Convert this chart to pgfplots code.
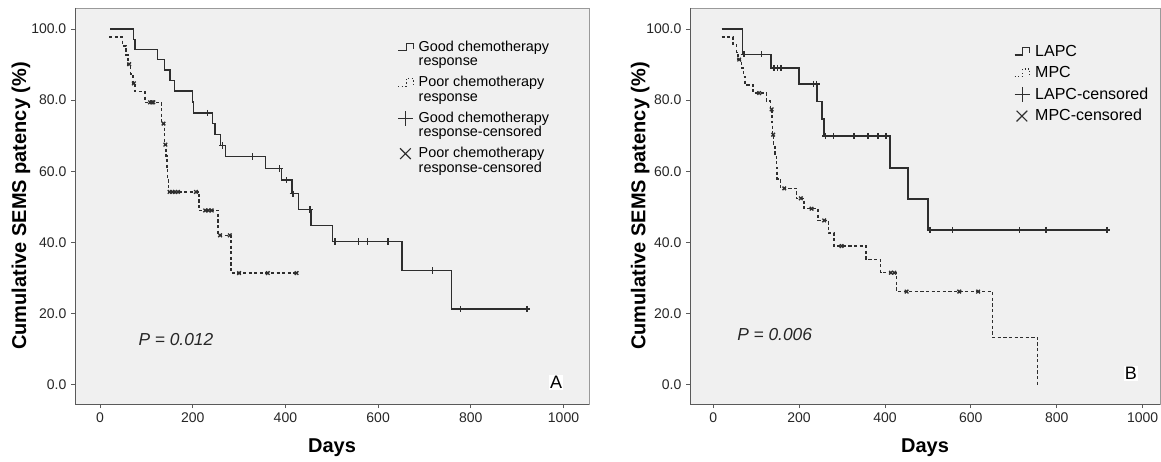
\documentclass[border=0pt]{standalone}
\usepackage{pgfplots}
\pgfplotsset{compat=1.18}
\usepackage{fontspec}
\setmainfont{Liberation Sans}
\definecolor{ink}{HTML}{2E2E2E}
\definecolor{panel}{HTML}{F0F0F0}
\definecolor{frame}{HTML}{9A9A9A}
\definecolor{frame2}{HTML}{5A5A5A}
\def\legshift{0pt}
\pgfplotsset{
  km/.style={
    scale only axis, height=297pt,
    xmin=-54, ymin=-5.4, ymax=105.9,
    clip mode=individual,
    axis background/.style={fill=panel},
    axis line style={draw=frame, line width=0.6pt},
    xtick={0,200,400,600,800,1000}, xticklabels={0,200,400,600,800,1000},
    ytick={0,20,40,60,80,100}, yticklabels={0.0,20.0,40.0,60.0,80.0,100.0},
    tick align=outside, xtick pos=left, ytick pos=left,
    major tick length=3pt, tick style={frame2, line width=0.6pt},
    tick label style={font=\fontsize{10.5}{10.5}\selectfont, text=black!85},
    xlabel={Days}, ylabel={Cumulative SEMS patency (\%)},
    label style={font=\bfseries\fontsize{15}{15}\selectfont},
    xlabel style={at={(axis description cs:0.5,-0.111)}, anchor=center},
    legend cell align=left,
    legend style={draw=none, fill=none, inner sep=0pt, row sep=5.5pt,
      /tikz/every odd column/.append style={column sep=3.5pt},
      font=\fontsize{10.8}{10.8}\selectfont, nodes={align=left, inner sep=0.5pt}},
  },
  stepline/.style={const plot, ink, line width=1.1pt,
    legend image code/.code={\path[draw=none, fill=none] (0pt,-5.5pt) rectangle (11.5pt,5.5pt);
      \draw[overlay, ink, line width=0.8pt, yshift=\legshift] (0pt,-2.5pt) -- (6pt,-2.5pt) -- (6pt,3pt) -- (11.5pt,3pt) -- (11.5pt,-1pt);}},
  stepdash/.style={const plot, ink, line width=1.1pt, dash pattern=on 2.4pt off 1.8pt,
    legend image code/.code={\path[draw=none, fill=none] (0pt,-5.5pt) rectangle (11.5pt,5.5pt);
      \draw[overlay, ink, line width=0.8pt, yshift=\legshift, dash pattern=on 1pt off 1.6pt] (0pt,-2.5pt) -- (6pt,-2.5pt) -- (6pt,3pt) -- (11.5pt,3pt) -- (11.5pt,-1pt);}},
  censplus/.style={only marks, ink, mark=+, mark size=2.4pt, mark options={line width=1pt},
    legend image code/.code={\path[draw=none, fill=none] (0pt,-5.5pt) rectangle (11.5pt,5.5pt);
      \draw[overlay, ink, line width=0.9pt, yshift=\legshift] (5.75pt,-5.5pt) -- (5.75pt,5.5pt) (0pt,0pt) -- (11.5pt,0pt);}},
  censx/.style={only marks, ink, mark=x, mark size=1.9pt, mark options={line width=1pt},
    legend image code/.code={\path[draw=none, fill=none] (0pt,-5.5pt) rectangle (11.5pt,5.5pt);
      \draw[overlay, ink, line width=0.9pt, yshift=\legshift] (1.5pt,-4pt) -- (9.5pt,4pt) (1.5pt,4pt) -- (9.5pt,-4pt);}},
}
\begin{document}
\begin{tikzpicture}
%% panel A: chemotherapy response
\def\legshift{5.4pt}
\begin{axis}[km, name=A, at={(56.25pt,42.75pt)}, anchor=south west,
    width=385.5pt, xmax=1055,
    ylabel style={at={(axis description cs:-0.105,0.5)}, anchor=center},
    legend style={at={(0.628,0.919)}, anchor=north west}]
  \addplot[stepline] coordinates {
    (21.6,100) (72,97.1) (75.5,94.3) (124.5,91.4) (139,88.5) (151,85.5) (160.5,82.6)
    (199,79.5) (201.5,76.4) (243,73.4) (248,70.3) (260.5,67.3) (271,64.2) (357.5,60.8)
    (392,57.5) (414,53.7) (428,49.3) (455,44.8) (502,40.3) (652,32.1) (758,21.3) (921,21.3)};
  \addlegendentry{Good chemotherapy\\response}
  \addplot[stepdash] coordinates {
    (20,97.7) (49,95.2) (56,92.7) (60,90.1) (66,87.4) (71,84.7) (75.5,82.4) (97,79.4)
    (133,73.4) (139,67.5) (142,64.3) (144,61.0) (146,57.6) (148,54.2) (213.5,49.0)
    (255,42.0) (283,31.4) (424,31.4)};
  \addlegendentry{Poor chemotherapy\\response}
  \addplot[censplus] coordinates {
    (232,76.4) (264,67.3) (329,64.2) (387,60.8) (403,57.5) (416,53.7) (453,49.3)
    (507,40.3) (558,40.3) (577,40.3) (621,40.3) (717,32.1) (778,21.3) (921,21.3)};
  \addlegendentry{Good chemotherapy\\response-censored}
  \addplot[censx] coordinates {
    (63,90.1) (73,84.7) (108,79.4) (112,79.4) (115,79.4) (137,73.4) (141,67.5)
    (150,54.2) (156,54.2) (162,54.2) (168,54.2) (207,54.2) (227,49.0) (234,49.0) (241,49.0)
    (259,42.0) (280,42.0) (300,31.4) (362,31.4) (424,31.4)};
  \addlegendentry{Poor chemotherapy\\response-censored}
  \draw[frame2, line width=0.7pt] (rel axis cs:0,1) -- (rel axis cs:0,0) -- (rel axis cs:1,0);
  \node[font=\itshape\fontsize{13}{13}\selectfont, text=black!85] at (axis cs:163.6,12.6) {P = 0.012};
  \node[fill=white, inner sep=1pt, font=\fontsize{13.5}{13.5}\selectfont] at (axis cs:984,0.6) {A};
\end{axis}
%% panel B: LAPC vs MPC
\def\legshift{0pt}
\begin{axis}[km, name=B, at={(517.5pt,42.75pt)}, anchor=south west,
    width=352.5pt, xmax=1040.5,
    ylabel style={at={(axis description cs:-0.106,0.5)}, anchor=center},
    legend style={at={(0.690,0.909)}, anchor=north west, row sep=5.0pt,
      font=\fontsize{12}{12}\selectfont}]
  \addplot[stepline] coordinates {
    (19.5,100) (68.4,92.9) (134.4,89.0) (199.6,84.5) (242,79.6) (253.8,74.7) (258.5,69.9)
    (411.5,60.9) (454,52.2) (500.7,43.5) (917,43.5)};
  \addlegendentry{LAPC}
  \addplot[stepdash] coordinates {
    (19.5,97.8) (46.6,95.6) (54.5,93.4) (58,91.4) (66,89.0) (70,86.7) (74,84.3) (93,82.0)
    (124,79.7) (133,77.4) (137,73.9) (138.5,70.3) (141,67.2) (144,64.2) (147,61.0)
    (149,57.9) (157,55.2) (194,52.4) (212,49.5) (244.6,46.2) (268,42.7) (281,39.0)
    (355.6,35.2) (390,31.5) (427,26.2) (650.6,13.3) (755.4,0)};
  \addlegendentry{MPC}
  \addplot[censplus] coordinates {
    (71.5,92.9) (112.7,92.9) (141.4,89.0) (149,89.0) (157.7,89.0) (232.9,84.5) (240.8,84.5)
    (261.7,69.9) (279.5,69.9) (327.7,69.9) (360.3,69.9) (383.6,69.9) (402.2,69.9)
    (505,43.5) (556.6,43.5) (714,43.5) (774.8,43.5) (917,43.5)};
  \addlegendentry{LAPC-censored}
  \addplot[censx] coordinates {
    (60.6,91.4) (107,82.0) (136,77.4) (139.7,70.3) (165.4,55.2) (204,52.4) (229,49.5)
    (258.5,46.2) (299,39.0) (414,31.5) (421.6,31.5) (450.4,26.2) (573,26.2) (617,26.2)};
  \addlegendentry{MPC-censored}
  \draw[frame2, line width=0.7pt] (rel axis cs:0,1) -- (rel axis cs:0,0) -- (rel axis cs:1,0);
  \node[font=\itshape\fontsize{13}{13}\selectfont, text=black!85] at (axis cs:143,14.2) {P = 0.006};
  \node[fill=white, inner sep=1pt, font=\fontsize{13.5}{13.5}\selectfont] at (axis cs:972.7,3.3) {B};
\end{axis}
\pgfresetboundingbox
\path[use as bounding box] (0pt,0pt) rectangle (870.75pt,345.75pt);
\end{tikzpicture}
\end{document}
